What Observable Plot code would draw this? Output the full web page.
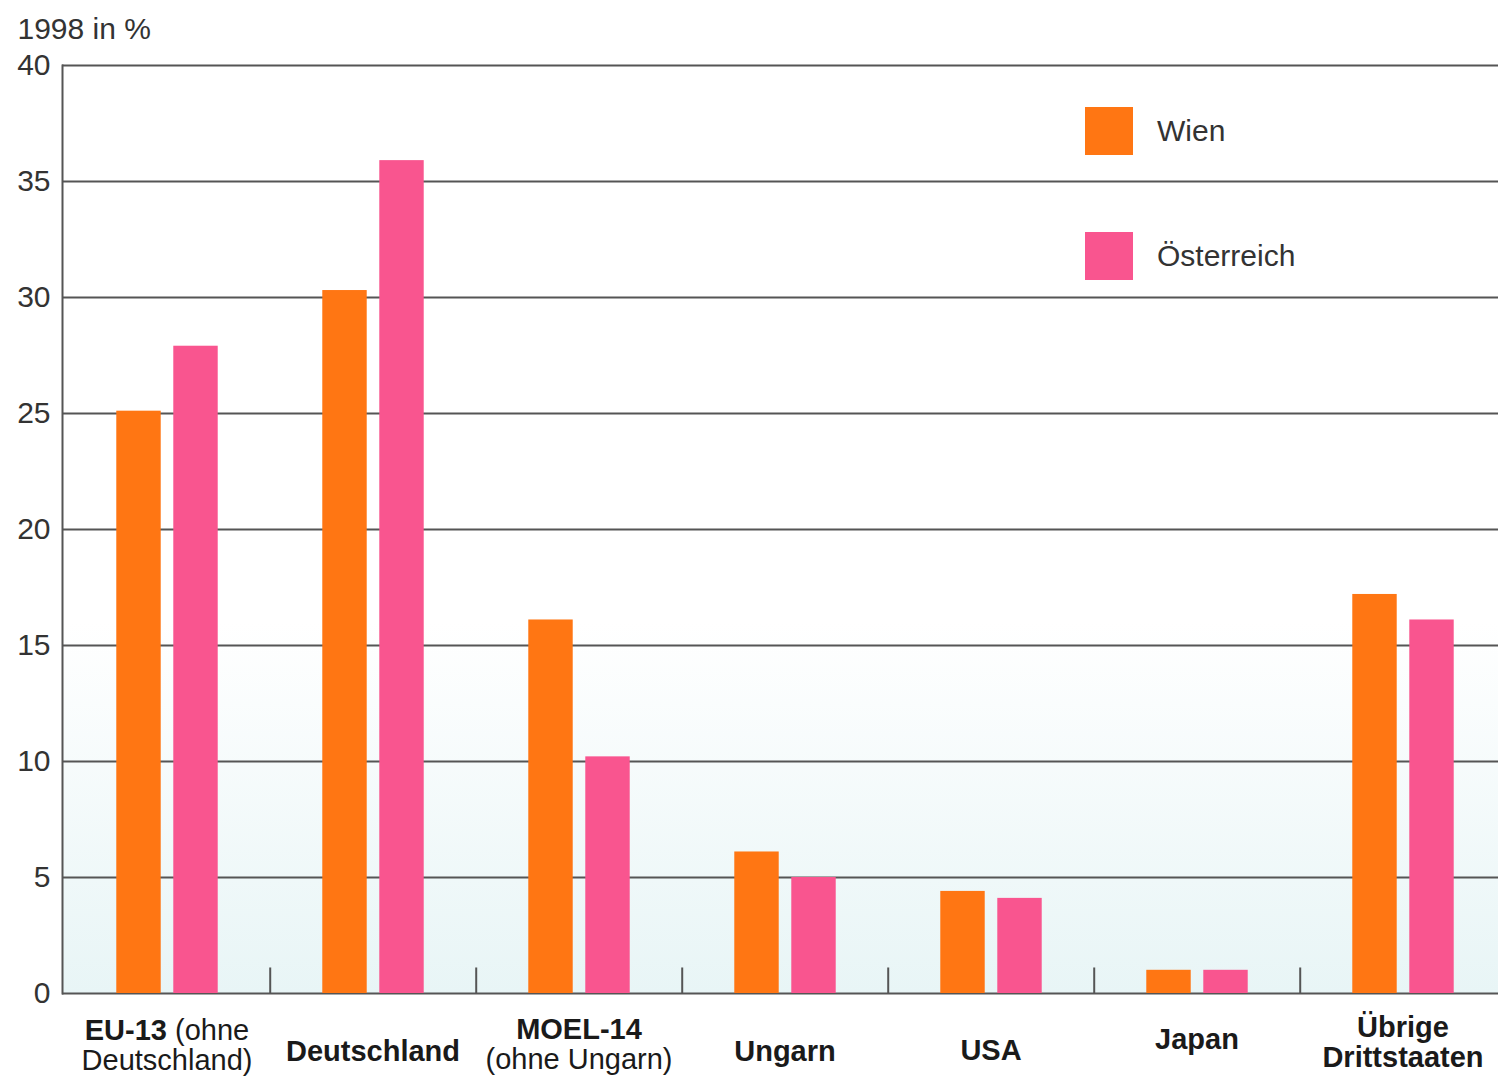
<!DOCTYPE html>
<html>
<head>
<meta charset="utf-8">
<script src="https://cdn.jsdelivr.net/npm/d3@7"></script>
<script src="https://cdn.jsdelivr.net/npm/@observablehq/plot@0.6"></script>
<style>
  html, body { margin: 0; padding: 0; background: #fff; overflow: hidden; }
  #wrap { position: relative; width: 1498px; height: 1076px; font-family: "Liberation Sans", Arial, sans-serif; color: #333; }
  #wrap svg { overflow: visible; }
  .legend-item { position: absolute; display: flex; align-items: center; font-size: 30px; color: #333; }
  .swatch { width: 48px; height: 48px; margin-right: 24px; }
  .xlab { position: absolute; transform: translate(-50%, -50%); text-align: center; font-size: 29px; line-height: 30px; color: #1a1a1a; white-space: nowrap; }
  .xlab b { font-weight: bold; }
</style>
</head>
<body>
<svg width="0" height="0" style="position:absolute">
  <defs>
    <linearGradient id="bgGrad" x1="0" y1="0" x2="0" y2="1">
      <stop offset="0" stop-color="#ffffff"/>
      <stop offset="0.6" stop-color="#ffffff"/>
      <stop offset="1" stop-color="#e8f5f6"/>
    </linearGradient>
  </defs>
</svg>
<div id="wrap"></div>
<script>
const categories = ["EU-13", "Deutschland", "MOEL-14", "Ungarn", "USA", "Japan", "Übrige Drittstaaten"];
const categoryLabels = [
  "<b>EU-13</b> (ohne<br>Deutschland)",
  "<b>Deutschland</b>",
  "<b>MOEL-14</b><br>(ohne Ungarn)",
  "<b>Ungarn</b>",
  "<b>USA</b>",
  "<b>Japan</b>",
  "<b>Übrige<br>Drittstaaten</b>"
];
const series = ["Wien", "Österreich"];
const seriesColors = ["#ff7613", "#f9558f"];
const wien = [25.1, 30.3, 16.1, 6.1, 4.4, 1.0, 17.2];
const oesterreich = [27.9, 35.9, 10.2, 5.0, 4.1, 1.0, 16.1];
const yTicks = [0, 5, 10, 15, 20, 25, 30, 35, 40];
const yTitle = "1998 in %";

const data = [];
categories.forEach((c, i) => {
  data.push({cat: c, series: "Wien", value: wien[i]});
  data.push({cat: c, series: "Österreich", value: oesterreich[i]});
});

const W = 1498, H = 1000, mL = 62, mR = -10, mT = 65, mB = 7;
const step = (W - mR - mL) / categories.length;
const barW = 45;
const inset = (step - barW) / 2;

const plot = Plot.plot({
  width: W, height: H,
  marginLeft: mL, marginRight: mR, marginTop: mT, marginBottom: mB,
  x: {domain: categories, padding: 0, axis: null},
  y: {domain: [0, 40], ticks: yTicks, tickSize: 0, tickPadding: 12, label: null},
  color: {domain: series, range: seriesColors},
  style: {fontFamily: "Liberation Sans, Arial, sans-serif", fontSize: "30px", color: "#333", background: "transparent", overflow: "visible"},
  marks: [
    Plot.frame({fill: "url(#bgGrad)", stroke: null}),
    Plot.ruleY(yTicks, {stroke: "#555", strokeWidth: 2}),
    Plot.frame({anchor: "left", stroke: "#555", strokeWidth: 2}),
    Plot.ruleX(categories.slice(1), {x: d => d, y1: 0, y2: 1.1, dx: -step / 2, stroke: "#555", strokeWidth: 2}),
    Plot.barY(data.filter(d => d.series === "Wien"), {x: "cat", y: "value", fill: "series", dx: -28.5, insetLeft: inset, insetRight: inset}),
    Plot.barY(data.filter(d => d.series === "Österreich"), {x: "cat", y: "value", fill: "series", dx: 28.5, insetLeft: inset, insetRight: inset}),
    Plot.text([yTitle], {frameAnchor: "top-left", dx: -45, dy: -48, textAnchor: "start", fontSize: 30, fill: "#333"})
  ]
});

const wrap = document.getElementById("wrap");
plot.style.position = "absolute";
plot.style.left = "0px";
plot.style.top = "0px";
wrap.appendChild(plot);

// Legend
const legendTops = [107, 232];
series.forEach((s, i) => {
  const item = document.createElement("div");
  item.className = "legend-item";
  item.style.left = "1085px";
  item.style.top = legendTops[i] + "px";
  item.innerHTML = `<div class="swatch" style="background:${seriesColors[i]}"></div><span>${s}</span>`;
  wrap.appendChild(item);
});

// Category labels positioned via the x scale
const labelTop = {"EU-13": 1045, "Deutschland": 1051, "MOEL-14": 1044, "Ungarn": 1051, "USA": 1050, "Japan": 1039, "Übrige Drittstaaten": 1042};
const xs = plot.scale("x");
categories.forEach((c, i) => {
  const cx = xs.apply(c) + xs.bandwidth / 2;
  const lab = document.createElement("div");
  lab.className = "xlab";
  lab.style.left = cx + "px";
  lab.style.top = labelTop[c] + "px";
  lab.innerHTML = categoryLabels[i];
  wrap.appendChild(lab);
});
</script>
</body>
</html>
